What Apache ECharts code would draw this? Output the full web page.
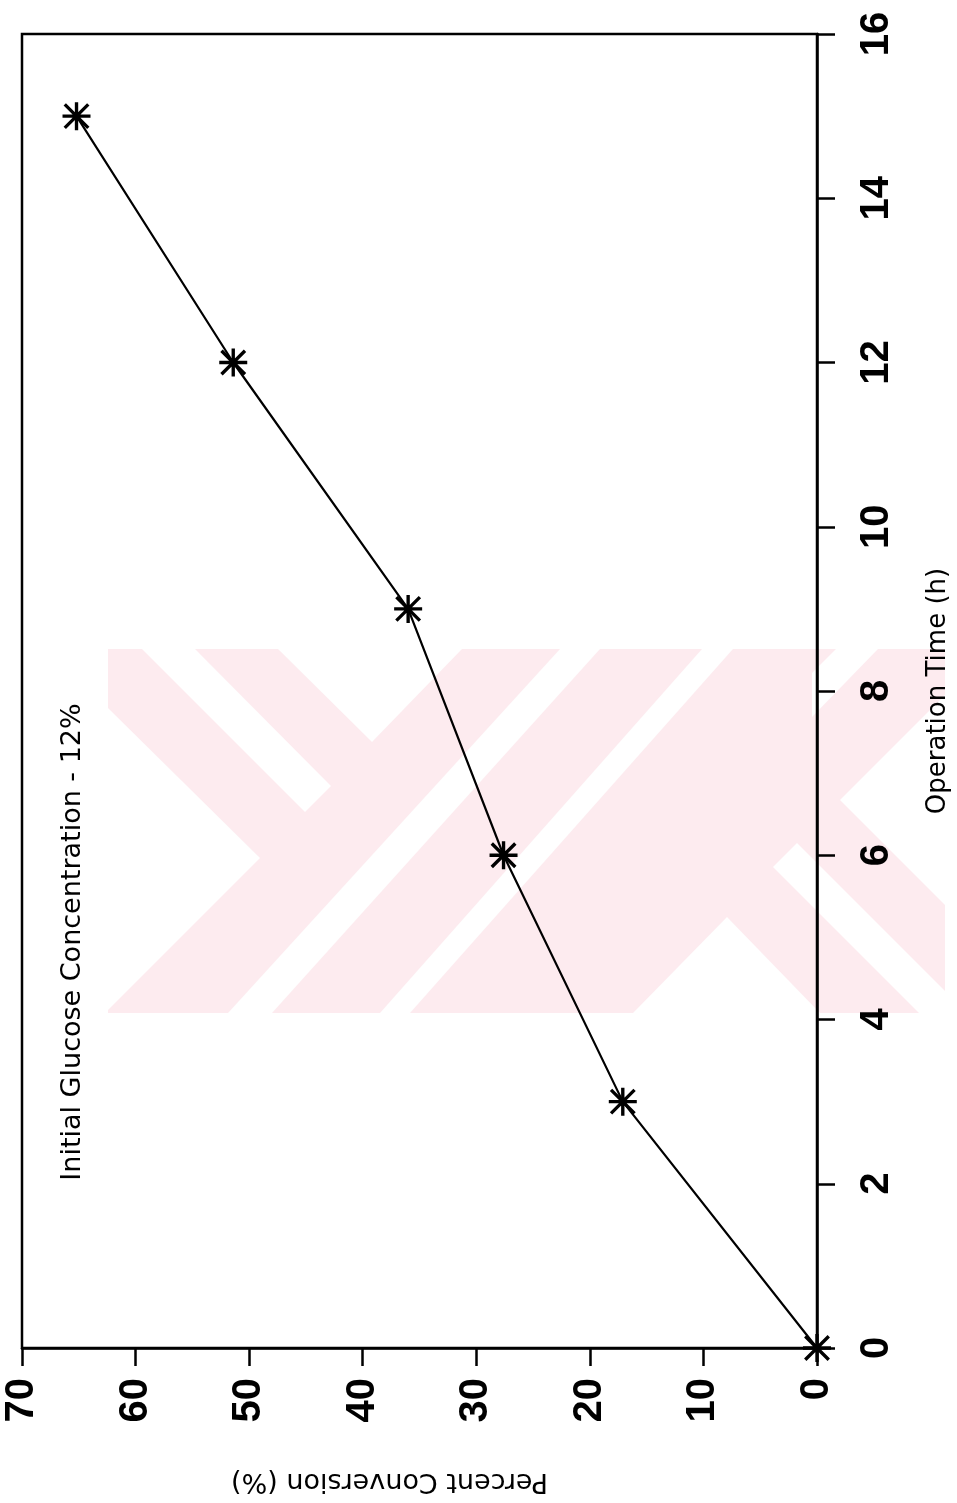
<!DOCTYPE html>
<html>
<head>
<meta charset="utf-8">
<script src="https://cdn.jsdelivr.net/npm/echarts@6/dist/echarts.min.js"></script>
<style>html,body{margin:0;padding:0;background:#fff;}#c{width:957px;height:1503px;}</style>
</head>
<body>
<div id="c"></div>
<script>
// ---- data ----
const operationTimeH = [0, 3, 6, 9, 12, 15];
const percentConversion = [0, 17.1, 27.6, 36.0, 51.4, 65.2];
const timeAxisTitle = 'Operation Time (h)';
const conversionAxisTitle = 'Percent Conversion (%)';
const noteText = 'Initial Glucose Concentration - 12%';

const seriesData = operationTimeH.map((t, i) => [percentConversion[i], t]);

const asterisk = 'path://M0 44 L100 44 L100 56 L0 56 Z M44 0 L56 0 L56 100 L44 100 Z M12.24 3.76 L96.24 87.76 L87.76 96.24 L3.76 12.24 Z M87.76 3.76 L96.24 12.24 L12.24 96.24 L3.76 87.76 Z';

const pink = '#fdebef';
const wm = (pts) => ({type: 'polygon', z: -2, silent: true, shape: {points: pts}, style: {fill: '#ffffff'}});

const chart = echarts.init(document.getElementById('c'), null, {renderer: 'canvas'});
chart.setOption({
  animation: false,
  backgroundColor: '#ffffff',
  grid: {left: 22, right: 140, top: 34, bottom: 155, containLabel: false, outerBoundsMode: 'none',
         show: true, borderColor: '#000', borderWidth: 2.5, backgroundColor: 'transparent'},
  xAxis: {
    type: 'value', min: 0, max: 70, interval: 10, inverse: true, position: 'bottom',
    axisLine: {show: true, lineStyle: {color: '#000', width: 2.5}},
    axisTick: {show: true, length: 18, lineStyle: {color: '#000', width: 2.5}},
    axisLabel: {rotate: 90, margin: 30, color: '#000', fontFamily: 'Liberation Sans', fontWeight: 'bold', fontSize: 40},
    splitLine: {show: false},
    name: conversionAxisTitle, nameLocation: 'middle', nameRotate: 180, nameGap: 120,
    nameTextStyle: {color: '#000', fontFamily: 'DejaVu Sans', fontSize: 27, padding: [0, 0, 0, 60]}
  },
  yAxis: {
    type: 'value', min: 0, max: 16, interval: 2, position: 'right',
    axisLine: {show: true, lineStyle: {color: '#000', width: 2.5}},
    axisTick: {show: true, length: 18, lineStyle: {color: '#000', width: 2.5}},
    axisLabel: {rotate: 90, margin: 40, color: '#000', fontFamily: 'Liberation Sans', fontWeight: 'bold', fontSize: 40},
    splitLine: {show: false},
    name: timeAxisTitle, nameLocation: 'middle', nameRotate: 90, nameGap: 108,
    nameTextStyle: {color: '#000', fontFamily: 'DejaVu Sans', fontSize: 26}
  },
  graphic: [
    {type: 'rect', z: -3, silent: true, shape: {x: 108, y: 649, width: 837, height: 364}, style: {fill: pink}},
    wm([[108,708],[260,858],[108,1010]]),
    wm([[142,649],[195,649],[331,786],[305,812]]),
    wm([[278,649],[462,649],[372,742]]),
    wm([[560,649],[600,649],[272,1013],[228,1013]]),
    wm([[702,649],[733,649],[410,1013],[380,1013]]),
    wm([[633,1013],[727,917],[820,1013]]),
    wm([[773,867],[797,843],[945,991],[945,1013],[919,1013]]),
    wm([[840,800],[945,695],[945,905]]),
    wm([[836,649],[878,649],[812,717],[812,673]]),
    {type: 'text', z: 10, x: 73, y: 942, rotation: Math.PI / 2,
     style: {text: noteText, fill: '#000', font: '27px "DejaVu Sans"', fontFamily: 'DejaVu Sans', fontSize: 27,
             align: 'center', verticalAlign: 'middle', textAlign: 'center', textVerticalAlign: 'middle'}}
  ],
  series: [{
    type: 'line', data: seriesData, clip: false,
    lineStyle: {color: '#000', width: 2.2},
    symbol: asterisk, symbolSize: 28,
    itemStyle: {color: '#000'},
    z: 5
  }]
});
</script>
</body>
</html>
